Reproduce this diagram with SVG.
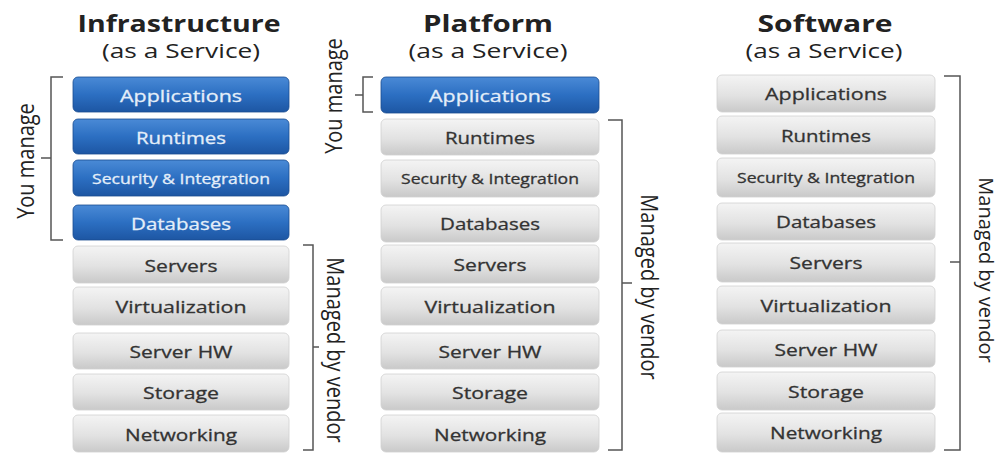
<svg xmlns="http://www.w3.org/2000/svg" width="1002" height="453" viewBox="0 0 1002 453">
<defs>
<linearGradient id="gBlue" x1="0" y1="0" x2="0" y2="1">
<stop offset="0" stop-color="#4a8ad6"/>
<stop offset="0.5" stop-color="#2c6fc2"/>
<stop offset="1" stop-color="#1d56a3"/>
</linearGradient>
<linearGradient id="gGray" x1="0" y1="0" x2="0" y2="1">
<stop offset="0" stop-color="#f4f4f4"/>
<stop offset="0.55" stop-color="#e2e2e2"/>
<stop offset="1" stop-color="#c9c9c9"/>
</linearGradient>
</defs>
<style>
.blue{fill:url(#gBlue);stroke:#1a4d90;stroke-width:0.8}
.gray{fill:url(#gGray);stroke:#d0d0d0;stroke-width:0.8}
.bt{font-family:"Open Sans","Liberation Sans",sans-serif;font-size:17px;fill:#e4eef9;stroke:#e4eef9;stroke-width:0.3;text-anchor:middle;dominant-baseline:central}
.gt{font-family:"Open Sans","Liberation Sans",sans-serif;font-size:17px;fill:#333;stroke:#333;stroke-width:0.3;text-anchor:middle;dominant-baseline:central}
.sm{font-size:14px}
.title{font-family:"Open Sans","Liberation Sans",sans-serif;font-size:24px;font-weight:bold;fill:#222;text-anchor:middle}
.sub{font-family:"Open Sans","Liberation Sans",sans-serif;font-size:20px;fill:#222;text-anchor:middle}
.lbl{font-family:"Open Sans","Liberation Sans",sans-serif;font-size:20px;fill:#222;text-anchor:middle;dominant-baseline:central}
.br{fill:none;stroke:#555;stroke-width:1.5}
</style>
<rect width="1002" height="453" fill="#fff"/>

<g id="titles">
<text class="title" x="179" y="32" textLength="203" lengthAdjust="spacingAndGlyphs">Infrastructure</text>
<text class="sub" x="181" y="58" textLength="158" lengthAdjust="spacingAndGlyphs">(as a Service)</text>
<text class="title" x="488" y="32" textLength="130" lengthAdjust="spacingAndGlyphs">Platform</text>
<text class="sub" x="488" y="58" textLength="159" lengthAdjust="spacingAndGlyphs">(as a Service)</text>
<text class="title" x="825" y="32" textLength="135" lengthAdjust="spacingAndGlyphs">Software</text>
<text class="sub" x="824" y="58" textLength="157" lengthAdjust="spacingAndGlyphs">(as a Service)</text>
</g>

<g id="iaas">
<g id="iaas-applications"><rect class="blue" x="73" y="77" width="216" height="35" rx="5"/><text class="bt" x="181" y="95" textLength="122" lengthAdjust="spacingAndGlyphs">Applications</text></g>
<g id="iaas-runtimes"><rect class="blue" x="73" y="119" width="216" height="35" rx="5"/><text class="bt" x="181" y="137" textLength="90" lengthAdjust="spacingAndGlyphs">Runtimes</text></g>
<g id="iaas-security"><rect class="blue" x="73" y="160" width="216" height="36" rx="5"/><text class="bt sm" x="181" y="178" textLength="178" lengthAdjust="spacingAndGlyphs">Security &amp; Integration</text></g>
<g id="iaas-databases"><rect class="blue" x="73" y="205" width="216" height="35" rx="5"/><text class="bt" x="181" y="223" textLength="100" lengthAdjust="spacingAndGlyphs">Databases</text></g>
<g id="iaas-servers"><rect class="gray" x="73" y="246" width="216" height="37" rx="5"/><text class="gt" x="181" y="265" textLength="73" lengthAdjust="spacingAndGlyphs">Servers</text></g>
<g id="iaas-virtualization"><rect class="gray" x="73" y="287" width="216" height="38" rx="5"/><text class="gt" x="181" y="306" textLength="131" lengthAdjust="spacingAndGlyphs">Virtualization</text></g>
<g id="iaas-serverhw"><rect class="gray" x="73" y="333" width="216" height="36" rx="5"/><text class="gt" x="181" y="351" textLength="103" lengthAdjust="spacingAndGlyphs">Server HW</text></g>
<g id="iaas-storage"><rect class="gray" x="73" y="374" width="216" height="36" rx="5"/><text class="gt" x="181" y="392" textLength="76" lengthAdjust="spacingAndGlyphs">Storage</text></g>
<g id="iaas-networking"><rect class="gray" x="73" y="415" width="216" height="37" rx="5"/><text class="gt" x="181" y="434" textLength="112" lengthAdjust="spacingAndGlyphs">Networking</text></g>
</g>

<g id="paas">
<g id="paas-applications"><rect class="blue" x="381" y="77" width="218" height="36" rx="5"/><text class="bt" x="490" y="95" textLength="122" lengthAdjust="spacingAndGlyphs">Applications</text></g>
<g id="paas-runtimes"><rect class="gray" x="381" y="119" width="218" height="36" rx="5"/><text class="gt" x="490" y="137" textLength="90" lengthAdjust="spacingAndGlyphs">Runtimes</text></g>
<g id="paas-security"><rect class="gray" x="381" y="160" width="218" height="37" rx="5"/><text class="gt sm" x="490" y="178" textLength="178" lengthAdjust="spacingAndGlyphs">Security &amp; Integration</text></g>
<g id="paas-databases"><rect class="gray" x="381" y="205" width="218" height="37" rx="5"/><text class="gt" x="490" y="223" textLength="100" lengthAdjust="spacingAndGlyphs">Databases</text></g>
<g id="paas-servers"><rect class="gray" x="381" y="245" width="218" height="38" rx="5"/><text class="gt" x="490" y="264" textLength="73" lengthAdjust="spacingAndGlyphs">Servers</text></g>
<g id="paas-virtualization"><rect class="gray" x="381" y="287" width="218" height="38" rx="5"/><text class="gt" x="490" y="306" textLength="131" lengthAdjust="spacingAndGlyphs">Virtualization</text></g>
<g id="paas-serverhw"><rect class="gray" x="381" y="333" width="218" height="36" rx="5"/><text class="gt" x="490" y="351" textLength="103" lengthAdjust="spacingAndGlyphs">Server HW</text></g>
<g id="paas-storage"><rect class="gray" x="381" y="374" width="218" height="36" rx="5"/><text class="gt" x="490" y="392" textLength="76" lengthAdjust="spacingAndGlyphs">Storage</text></g>
<g id="paas-networking"><rect class="gray" x="381" y="415" width="218" height="37" rx="5"/><text class="gt" x="490" y="434" textLength="112" lengthAdjust="spacingAndGlyphs">Networking</text></g>
</g>

<g id="saas">
<g id="saas-applications"><rect class="gray" x="717" y="75" width="218" height="37" rx="5"/><text class="gt" x="826" y="93" textLength="122" lengthAdjust="spacingAndGlyphs">Applications</text></g>
<g id="saas-runtimes"><rect class="gray" x="717" y="116" width="218" height="38" rx="5"/><text class="gt" x="826" y="135" textLength="90" lengthAdjust="spacingAndGlyphs">Runtimes</text></g>
<g id="saas-security"><rect class="gray" x="717" y="158" width="218" height="39" rx="5"/><text class="gt sm" x="826" y="177" textLength="178" lengthAdjust="spacingAndGlyphs">Security &amp; Integration</text></g>
<g id="saas-databases"><rect class="gray" x="717" y="203" width="218" height="37" rx="5"/><text class="gt" x="826" y="221" textLength="100" lengthAdjust="spacingAndGlyphs">Databases</text></g>
<g id="saas-servers"><rect class="gray" x="717" y="243" width="218" height="39" rx="5"/><text class="gt" x="826" y="262" textLength="73" lengthAdjust="spacingAndGlyphs">Servers</text></g>
<g id="saas-virtualization"><rect class="gray" x="717" y="286" width="218" height="38" rx="5"/><text class="gt" x="826" y="305" textLength="131" lengthAdjust="spacingAndGlyphs">Virtualization</text></g>
<g id="saas-serverhw"><rect class="gray" x="717" y="330" width="218" height="37" rx="5"/><text class="gt" x="826" y="349" textLength="103" lengthAdjust="spacingAndGlyphs">Server HW</text></g>
<g id="saas-storage"><rect class="gray" x="717" y="372" width="218" height="38" rx="5"/><text class="gt" x="826" y="391" textLength="76" lengthAdjust="spacingAndGlyphs">Storage</text></g>
<g id="saas-networking"><rect class="gray" x="717" y="413" width="218" height="39" rx="5"/><text class="gt" x="826" y="432" textLength="112" lengthAdjust="spacingAndGlyphs">Networking</text></g>
</g>

<g id="connectors">
<path class="br" d="M63,77 H51 V240 H63 M51,158 H41"/>
<path class="br" d="M303,245 H313 V450 H303 M313,347 H319"/>
<path class="br" d="M373,77 H363 V112 H373 M363,95 H355"/>
<path class="br" d="M608,120 H622 V450 H608 M622,283 H632"/>
<path class="br" d="M944,76 H960 V450 H944 M960,262 H950"/>
</g>

<g id="labels">
<text class="lbl" transform="translate(24,161) rotate(-90) scale(1,1.2)">You manage</text>
<text class="lbl" transform="translate(332,96) rotate(-90) scale(1,1.2)">You manage</text>
<text class="lbl" transform="translate(337,350) rotate(90) scale(1,1.2)">Managed by vendor</text>
<text class="lbl" transform="translate(651,287) rotate(90) scale(1,1.2)">Managed by vendor</text>
<text class="lbl" transform="translate(986,270) rotate(90)">Managed by vendor</text>
</g>
</svg>
